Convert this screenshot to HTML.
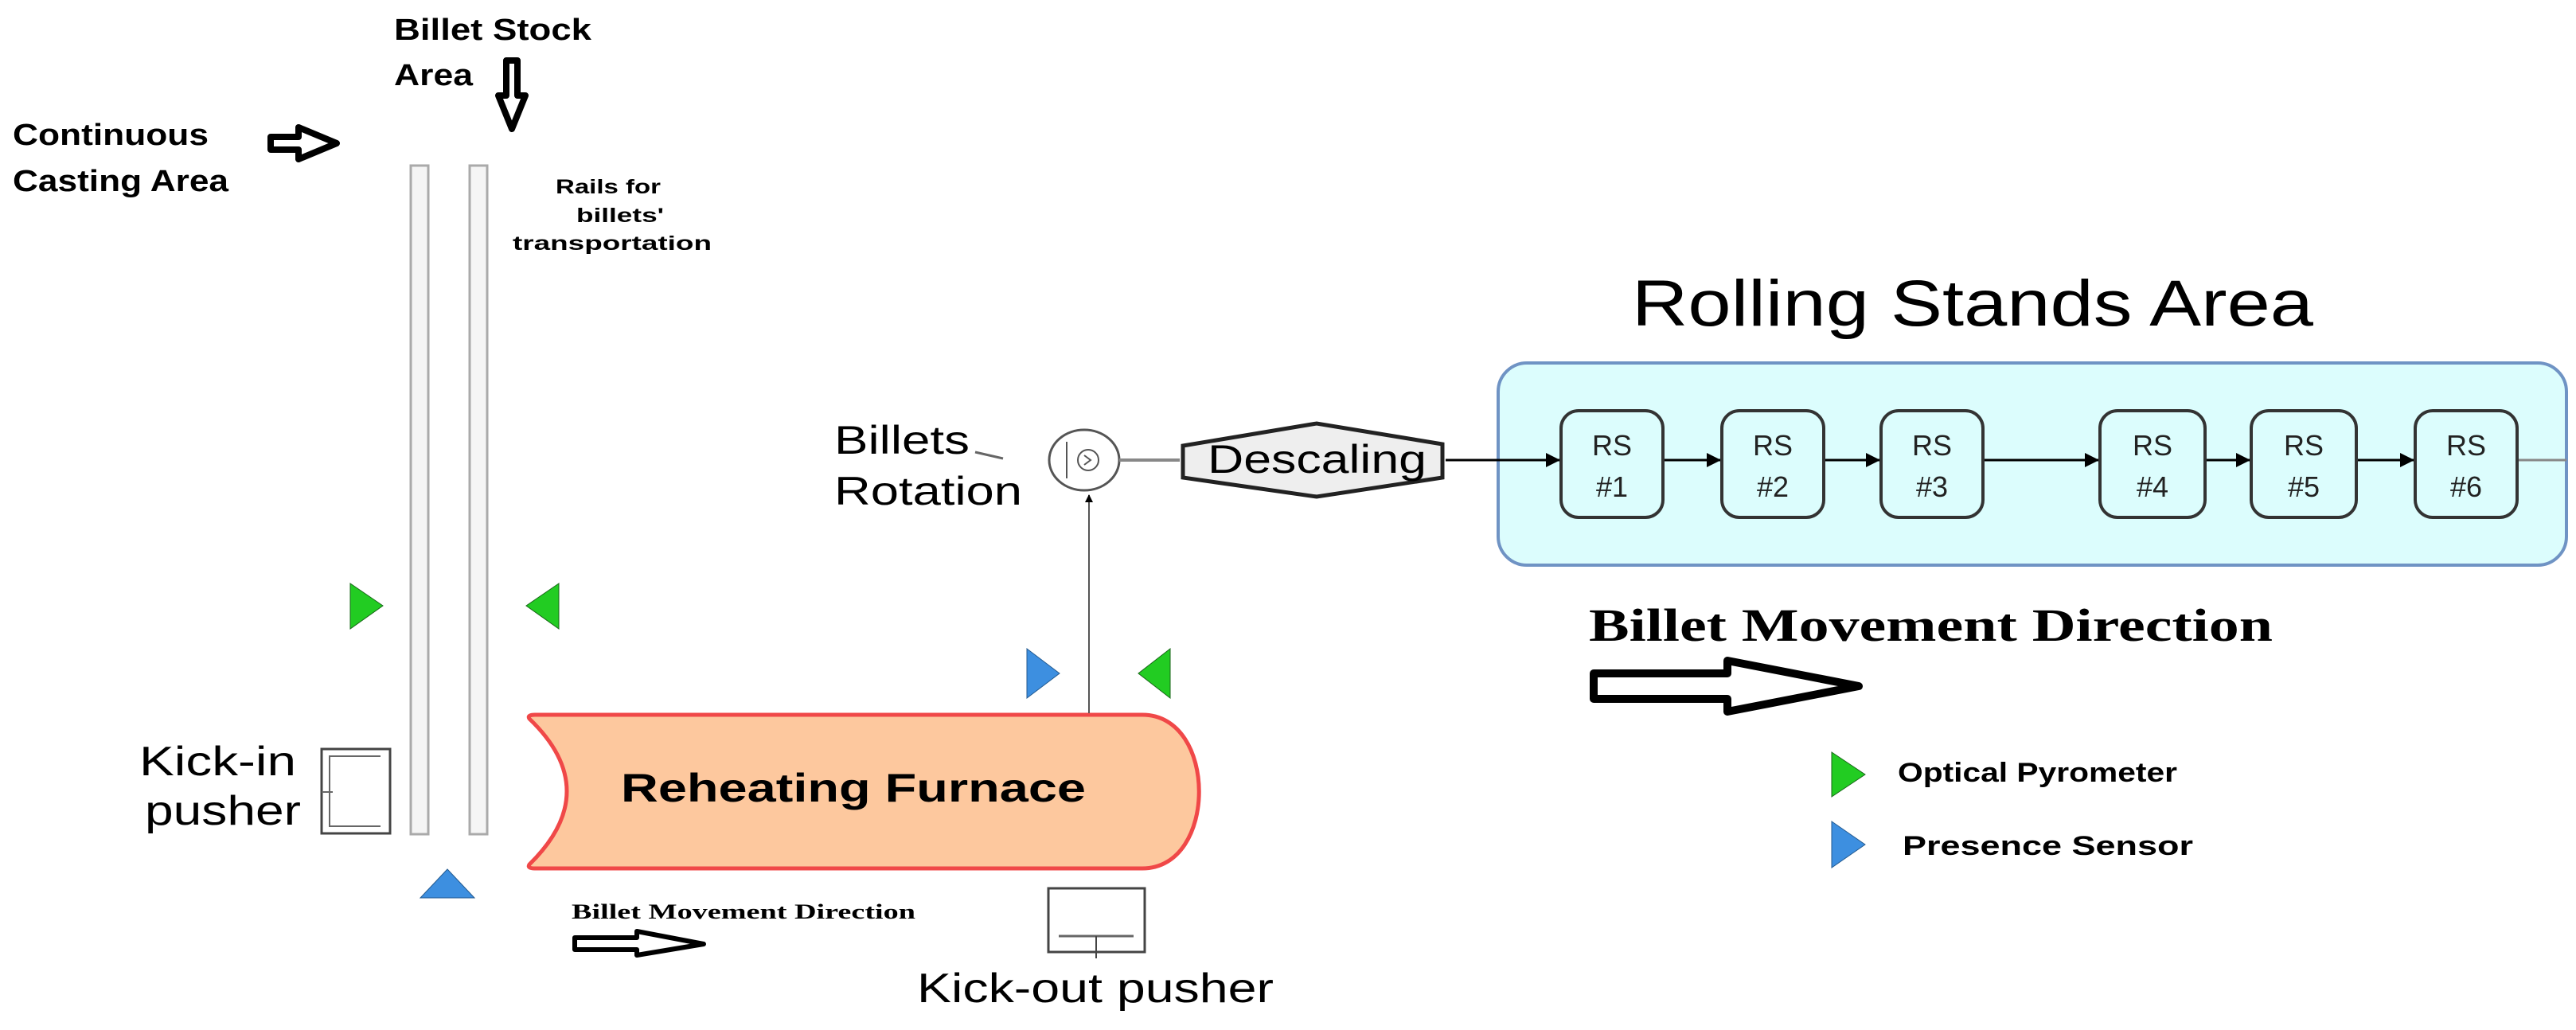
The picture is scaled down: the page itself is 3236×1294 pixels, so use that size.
<!DOCTYPE html>
<html><head><meta charset="utf-8"><style>html,body{margin:0;padding:0;background:#fff}svg{display:block}</style></head><body>
<svg width="3236" height="1294" viewBox="0 0 3236 1294" xmlns="http://www.w3.org/2000/svg">
<defs>
<marker id="ah" markerWidth="10" markerHeight="10" refX="9" refY="5" orient="auto" markerUnits="userSpaceOnUse"><path d="M0,0 L10,5 L0,10 z" fill="#000"/></marker>
<marker id="ahb" markerWidth="18" markerHeight="18" refX="17" refY="9" orient="auto" markerUnits="userSpaceOnUse"><path d="M0,0 L18,9 L0,18 z" fill="#000"/></marker>
</defs>
<g font-family="Liberation Sans, sans-serif" font-weight="bold" fill="#000">
<text x="495" y="50" font-size="38" textLength="248" lengthAdjust="spacingAndGlyphs">Billet Stock</text>
<text x="495" y="107" font-size="38" textLength="99" lengthAdjust="spacingAndGlyphs">Area</text>
<text x="16" y="182" font-size="38" textLength="246" lengthAdjust="spacingAndGlyphs">Continuous</text>
<text x="16" y="240" font-size="38" textLength="271" lengthAdjust="spacingAndGlyphs">Casting Area</text>
<text x="698" y="243" font-size="25" textLength="132" lengthAdjust="spacingAndGlyphs">Rails for</text>
<text x="724" y="279" font-size="25" textLength="110" lengthAdjust="spacingAndGlyphs">billets'</text>
<text x="644" y="314" font-size="25" textLength="250" lengthAdjust="spacingAndGlyphs">transportation</text>
<text x="2384" y="982" font-size="34" textLength="351" lengthAdjust="spacingAndGlyphs">Optical Pyrometer</text>
<text x="2390" y="1074" font-size="34" textLength="365" lengthAdjust="spacingAndGlyphs">Presence Sensor</text>
</g>
<polygon points="340,172 375,172 375,160 423,180 375,200 375,188 340,188" fill="#fff" stroke="#000" stroke-width="8" stroke-linejoin="round"/>
<polygon points="636,76 650,76 650,120 660,120 643,162 626,120 636,120" fill="#fff" stroke="#000" stroke-width="8" stroke-linejoin="round"/>
<rect x="516" y="208" width="22" height="840" fill="#f5f5f5" stroke="#aaa" stroke-width="3"/>
<rect x="590" y="208" width="22" height="840" fill="#f5f5f5" stroke="#aaa" stroke-width="3"/>
<polygon points="440,733 481,761 440,790" fill="#22cc22" stroke="#186618" stroke-width="1"/>
<polygon points="702,733 661,761 702,790" fill="#22cc22" stroke="#186618" stroke-width="1"/>
<polygon points="1290,815 1331,846 1290,877" fill="#3d8fe0" stroke="#235a90" stroke-width="1"/>
<polygon points="1470,815 1430,846 1470,877" fill="#22cc22" stroke="#186618" stroke-width="1"/>
<polygon points="562,1092 528,1128 596,1128" fill="#3d8fe0" stroke="#235a90" stroke-width="1"/>
<polygon points="2588,654 2559,696 2617,696" fill="#22cc22" stroke="#186618" stroke-width="1"/>
<polygon points="2301,945 2343,973 2301,1001" fill="#22cc22" stroke="#186618" stroke-width="1"/>
<polygon points="2301,1032 2343,1061 2301,1090" fill="#3d8fe0" stroke="#235a90" stroke-width="1"/>
<g font-family="Liberation Sans, sans-serif" fill="#000">
<text x="175" y="974" font-size="52" textLength="197" lengthAdjust="spacingAndGlyphs">Kick-in</text>
<text x="182" y="1036" font-size="52" textLength="196" lengthAdjust="spacingAndGlyphs">pusher</text>
<text x="1152" y="1259" font-size="52" textLength="448" lengthAdjust="spacingAndGlyphs">Kick-out pusher</text>
<text x="1048" y="570" font-size="50" textLength="170" lengthAdjust="spacingAndGlyphs">Billets</text>
<text x="1048" y="634" font-size="50" textLength="236" lengthAdjust="spacingAndGlyphs">Rotation</text>
<text x="2050" y="409" font-size="82" textLength="856" lengthAdjust="spacingAndGlyphs">Rolling Stands Area</text>
</g>
<rect x="404" y="941" width="86" height="106" fill="#fff" stroke="#444" stroke-width="3"/>
<path d="M478,950 H414 V1038 H478" fill="none" stroke="#666" stroke-width="2"/>
<line x1="404" y1="995" x2="418" y2="995" stroke="#666" stroke-width="2"/>
<rect x="1317" y="1116" width="121" height="80" fill="#fff" stroke="#444" stroke-width="3"/>
<path d="M1330,1176 H1424" stroke="#666" stroke-width="3"/>
<line x1="1377" y1="1176" x2="1377" y2="1204" stroke="#444" stroke-width="2"/>
<path d="M672,898 H1435 C1530,898 1530,1091 1435,1091 H672 Q662,1091 665,1086 Q712,1040 712,994 Q712,948 665,903 Q662,898 672,898 Z" fill="#fdc89e" stroke="#f04848" stroke-width="5"/>
<text x="780" y="1007" font-family="Liberation Sans, sans-serif" font-weight="bold" font-size="50" textLength="584" lengthAdjust="spacingAndGlyphs">Reheating Furnace</text>
<line x1="1368" y1="896" x2="1368" y2="622" stroke="#555" stroke-width="2" marker-end="url(#ah)"/>
<line x1="1225" y1="568" x2="1260" y2="576" stroke="#666" stroke-width="3"/>
<ellipse cx="1362" cy="578" rx="44" ry="38" fill="#fff" stroke="#555" stroke-width="3"/>
<circle cx="1367" cy="578" r="13" fill="none" stroke="#555" stroke-width="2"/>
<line x1="1340" y1="555" x2="1340" y2="601" stroke="#555" stroke-width="2"/>
<path d="M1362,572 L1370,578 L1362,584" fill="none" stroke="#555" stroke-width="2"/>
<line x1="1406" y1="578" x2="1482" y2="578" stroke="#888" stroke-width="4"/>
<polygon points="1486,560 1654,532 1812,558 1812,600 1654,624 1486,600" fill="#eee" stroke="#222" stroke-width="5"/>
<text x="1517" y="594" font-family="Liberation Sans, sans-serif" font-size="50" textLength="275" lengthAdjust="spacingAndGlyphs">Descaling</text>
<rect x="1882" y="456" width="1342" height="254" rx="36" fill="#dcfdfd" stroke="#6f93c4" stroke-width="4"/>
<line x1="1816" y1="578" x2="1959" y2="578" stroke="#000" stroke-width="3" marker-end="url(#ahb)"/>
<g stroke="#000" stroke-width="3">
<line x1="2089" y1="578" x2="2161" y2="578" marker-end="url(#ahb)"/>
<line x1="2291" y1="578" x2="2361" y2="578" marker-end="url(#ahb)"/>
<line x1="2491" y1="578" x2="2636" y2="578" marker-end="url(#ahb)"/>
<line x1="2770" y1="578" x2="2826" y2="578" marker-end="url(#ahb)"/>
<line x1="2960" y1="578" x2="3032" y2="578" marker-end="url(#ahb)"/>
<line x1="3162" y1="578" x2="3224" y2="578" stroke="#888"/>
</g>
<g fill="#dcfdfd" stroke="#333" stroke-width="4">
<rect x="1961" y="516" width="128" height="134" rx="22"/>
<rect x="2163" y="516" width="128" height="134" rx="22"/>
<rect x="2363" y="516" width="128" height="134" rx="22"/>
<rect x="2638" y="516" width="132" height="134" rx="22"/>
<rect x="2828" y="516" width="132" height="134" rx="22"/>
<rect x="3034" y="516" width="128" height="134" rx="22"/>
</g>
<g font-family="Liberation Sans, sans-serif" font-size="36" text-anchor="middle" fill="#222">
<text x="2025" y="572">RS</text><text x="2025" y="624">#1</text>
<text x="2227" y="572">RS</text><text x="2227" y="624">#2</text>
<text x="2427" y="572">RS</text><text x="2427" y="624">#3</text>
<text x="2704" y="572">RS</text><text x="2704" y="624">#4</text>
<text x="2894" y="572">RS</text><text x="2894" y="624">#5</text>
<text x="3098" y="572">RS</text><text x="3098" y="624">#6</text>
</g>
<text x="1996" y="805" font-family="Liberation Serif, serif" font-weight="bold" font-size="58" textLength="859" lengthAdjust="spacingAndGlyphs">Billet Movement Direction</text>
<polygon points="2002,846 2170,846 2170,830 2335,862 2170,894 2170,878 2002,878" fill="#fff" stroke="#000" stroke-width="10" stroke-linejoin="round"/>
<text x="718" y="1154" font-family="Liberation Serif, serif" font-weight="bold" font-size="26" textLength="432" lengthAdjust="spacingAndGlyphs">Billet Movement Direction</text>
<polygon points="722,1178 800,1178 800,1170 884,1186 800,1200 800,1193 722,1193" fill="#fff" stroke="#000" stroke-width="6" stroke-linejoin="round"/>
</svg>
</body></html>
